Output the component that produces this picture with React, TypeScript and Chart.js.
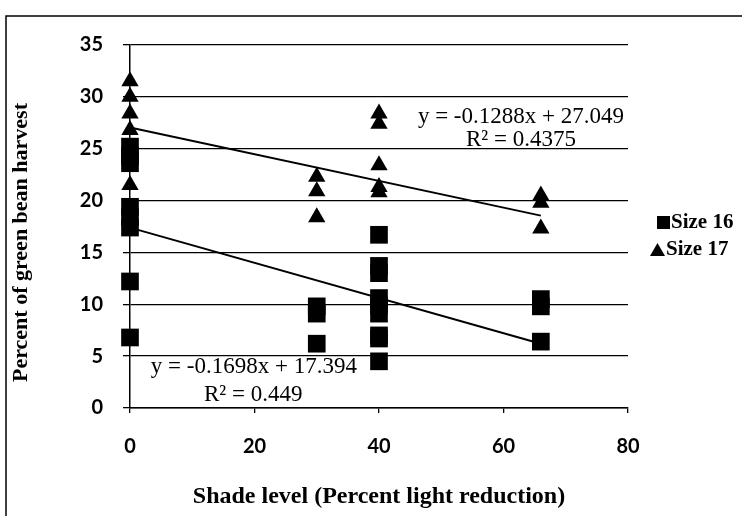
import React, { useEffect, useRef } from "react";
import { Chart, registerables } from "chart.js";

Chart.register(...registerables);

// ---- data ----
const size16Shade = [0, 0, 0, 0, 0, 0, 0, 0, 30, 30, 30, 40, 40, 40, 40, 40, 40, 40, 40, 40, 66, 66, 66];
const size16Pct = [25.2, 24.3, 23.6, 19.4, 18.4, 17.4, 12.2, 6.8, 9.8, 9.1, 6.2, 16.7, 13.7, 13.0, 10.6, 9.9, 9.1, 7.0, 6.7, 4.5, 10.5, 9.8, 6.4];

const size17Shade = [0, 0, 0, 0, 0, 0, 30, 30, 30, 40, 40, 40, 40, 40, 66, 66, 66];
const size17Pct = [31.5, 30.0, 28.4, 26.8, 24.6, 21.5, 22.3, 20.9, 18.4, 28.4, 27.4, 23.4, 21.3, 20.8, 20.5, 19.8, 17.3];

const trendShade = [0, 66];
const trend16Pct = [17.394, 6.187];
const trend17Pct = [27.049, 18.548];

const xTickValues = [0, 20, 40, 60, 80];
const yTickValues = [0, 5, 10, 15, 20, 25, 30, 35];

const legendLabels = ["Size 16", "Size 17"];
const equation16 = ["y = -0.1698x + 17.394", "R² = 0.449"];
const equation17 = ["y = -0.1288x + 27.049", "R² = 0.4375"];
const xTitle = "Shade level (Percent light reduction)";
const yTitle = "Percent of green bean harvest";

const toPoints = (xs: number[], ys: number[]) => xs.map((x, i) => ({ x, y: ys[i] }));

const annotatePlugin = {
  id: "annotate",
  afterDraw(chart: any) {
    const { ctx, scales, chartArea } = chart;
    const xs = scales.x;
    const ys = scales.y;
    ctx.save();
    // outer frame
    ctx.strokeStyle = "#000";
    ctx.lineWidth = 1.5;
    ctx.beginPath();
    ctx.moveTo(6, 600);
    ctx.lineTo(6, 16);
    ctx.lineTo(800, 16);
    ctx.stroke();

    // regression equations
    ctx.fillStyle = "#000";
    ctx.font = '23px "Liberation Serif"';
    ctx.textAlign = "center";
    ctx.textBaseline = "middle";
    ctx.fillText(equation16[0], xs.getPixelForValue(19.9), ys.getPixelForValue(4.0));
    ctx.fillText(equation16[1], xs.getPixelForValue(19.8), ys.getPixelForValue(1.3));
    ctx.fillText(equation17[0], xs.getPixelForValue(62.8), ys.getPixelForValue(28.05));
    ctx.fillText(equation17[1], xs.getPixelForValue(62.8), ys.getPixelForValue(25.8));

    // y axis title
    ctx.save();
    ctx.font = 'bold 22px "Liberation Serif"';
    ctx.translate(21, (chartArea.top + chartArea.bottom) / 2 + 16);
    ctx.rotate(-Math.PI / 2);
    ctx.fillText(yTitle, 0, 0);
    ctx.restore();

    // legend
    const right = chartArea.right;
    ctx.font = 'bold 21px "Liberation Serif"';
    ctx.textAlign = "left";
    const y16 = 223;
    const y17 = 250;
    ctx.fillRect(right + 29, y16 - 7, 13, 13);
    ctx.fillText(legendLabels[0], right + 43, y16);
    ctx.beginPath();
    ctx.moveTo(right + 22, y17 + 6);
    ctx.lineTo(right + 29.5, y17 - 7);
    ctx.lineTo(right + 37, y17 + 6);
    ctx.closePath();
    ctx.fill();
    ctx.fillText(legendLabels[1], right + 38, y17);
    ctx.restore();
  },
};

export default function App() {
  const canvasRef = useRef<HTMLCanvasElement | null>(null);

  useEffect(() => {
    document.body.style.margin = "0";
    const canvas = canvasRef.current;
    if (!canvas) return;
    const tickFont = { family: "Lato", weight: "bold" as const, size: 20 };
    const titleFont = { family: "Liberation Serif", weight: "bold" as const, size: 24 };
    const chart = new Chart(canvas, {
      type: "scatter",
      data: {
        datasets: [
          {
            label: "trend16",
            data: toPoints(trendShade, trend16Pct),
            showLine: true,
            borderColor: "#000",
            borderWidth: 2,
            pointRadius: 0,
            clip: false,
          },
          {
            label: "trend17",
            data: toPoints(trendShade, trend17Pct),
            showLine: true,
            borderColor: "#000",
            borderWidth: 2,
            pointRadius: 0,
            clip: false,
          },
          {
            label: legendLabels[0],
            data: toPoints(size16Shade, size16Pct),
            pointStyle: "rect",
            pointRadius: 12.5,
            backgroundColor: "#000",
            borderColor: "#000",
            borderWidth: 0,
            clip: false,
          },
          {
            label: legendLabels[1],
            data: toPoints(size17Shade, size17Pct),
            pointStyle: "triangle",
            pointRadius: 10,
            backgroundColor: "#000",
            borderColor: "#000",
            borderWidth: 0,
            clip: false,
          },
        ],
      },
      options: {
        responsive: false,
        animation: false,
        layout: { padding: { left: 6, top: 45, right: 114, bottom: 0 } },
        plugins: { legend: { display: false }, tooltip: { enabled: false } },
        scales: {
          x: {
            type: "linear",
            min: 0,
            max: 80,
            afterBuildTicks: (s: any) => {
              s.ticks = xTickValues.map((v) => ({ value: v }));
            },
            ticks: { font: tickFont, color: "#000", padding: 22 },
            grid: { display: true, drawOnChartArea: false, drawTicks: true, tickLength: 5, color: "#000", lineWidth: 1.3 },
            border: { display: true, color: "#000", width: 1.5 },
            title: { display: true, text: xTitle, font: titleFont, color: "#000", padding: { top: 0, bottom: 5 } },
            afterFit: (s: any) => {
              s.height = 108;
            },
          },
          y: {
            type: "linear",
            min: 0,
            max: 35,
            afterBuildTicks: (s: any) => {
              s.ticks = yTickValues.map((v) => ({ value: v }));
            },
            ticks: { font: tickFont, color: "#000", padding: 20 },
            grid: { color: "#000", lineWidth: 1.3, tickLength: 7 },
            border: { display: true, color: "#000", width: 1.5 },
            title: { display: false },
            afterFit: (s: any) => {
              s.width = 124;
            },
          },
        },
      },
      plugins: [annotatePlugin],
    } as any);
    return () => chart.destroy();
  }, []);

  return <canvas ref={canvasRef} width={742} height={516} style={{ display: "block", width: 742, height: 516 }} />;
}
